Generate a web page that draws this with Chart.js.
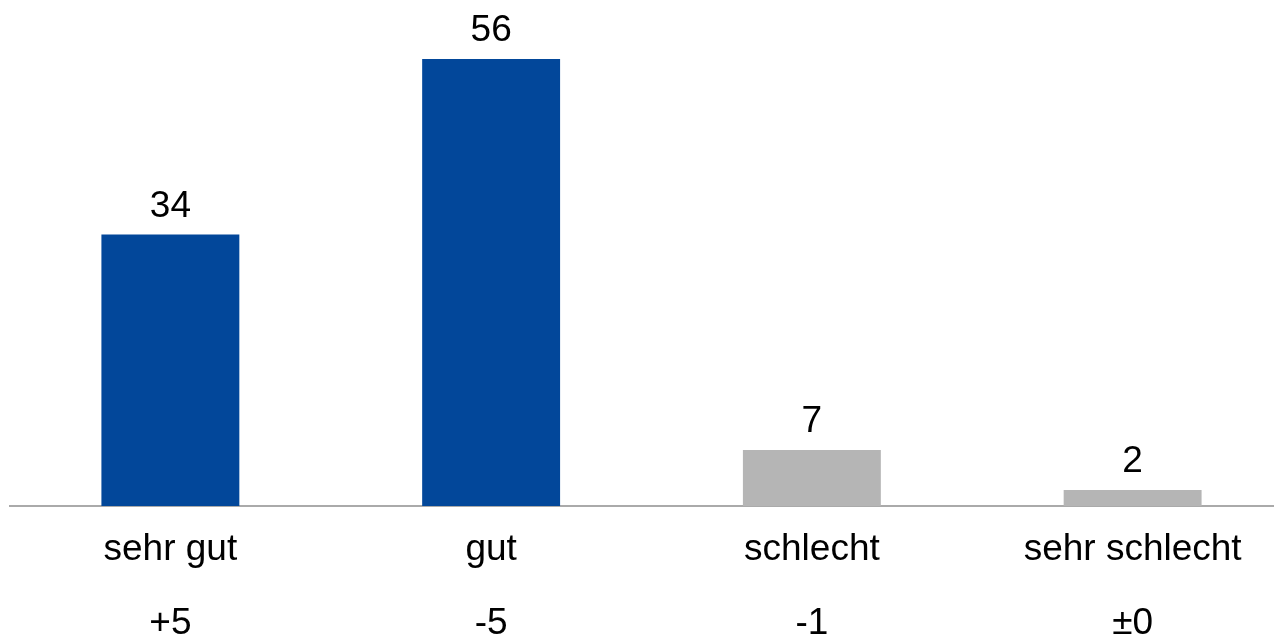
<!doctype html>
<html lang="de">
<head>
<meta charset="utf-8">
<title>Bewertung</title>
<script src="https://cdn.jsdelivr.net/npm/chart.js"></script>
<style>
  html, body { margin: 0; padding: 0; background: #fff; overflow: hidden; }
  .wrap { width: 1293px; height: 637px; position: relative; }
</style>
</head>
<body>
<div class="wrap"><canvas id="barChart"></canvas></div>
<script>
const categories = ['sehr gut', 'gut', 'schlecht', 'sehr schlecht'];
const changes = ['+5', '-5', '-1', '±0'];
const values = [34, 56, 7, 2];
const barColors = ['#02479A', '#02479A', '#B5B5B5', '#B5B5B5'];

// Werte über die Balken schreiben
const valueLabels = {
  id: 'valueLabels',
  afterDatasetsDraw(chart) {
    const ctx = chart.ctx;
    const meta = chart.getDatasetMeta(0);
    ctx.save();
    ctx.font = '37px "Liberation Sans", Arial, sans-serif';
    ctx.fillStyle = '#000';
    ctx.textAlign = 'center';
    ctx.textBaseline = 'alphabetic';
    meta.data.forEach((bar, i) => {
      ctx.fillText(String(values[i]), bar.x, bar.y - 18);
    });
    ctx.restore();
  }
};

const ctx = document.getElementById('barChart').getContext('2d');
new Chart(ctx, {
  type: 'bar',
  data: {
    labels: categories.map((c, i) => [c, changes[i]]),
    datasets: [{
      data: values,
      backgroundColor: barColors,
      barPercentage: 0.43,
      categoryPercentage: 1
    }]
  },
  options: {
    responsive: true,
    maintainAspectRatio: false,
    animation: false,
    layout: { padding: { left: 10, right: 0, top: 27, bottom: 0 } },
    plugins: {
      legend: { display: false },
      tooltip: { enabled: false }
    },
    scales: {
      x: {
        grid: { display: false, drawTicks: false },
        border: { display: true, color: '#AAAAAA', width: 2 },
        afterFit(scale) { scale.height = 131; },
        ticks: {
          color: '#000',
          padding: 7,
          maxRotation: 0,
          autoSkip: false,
          font: { family: '"Liberation Sans", Arial, sans-serif', size: 37, lineHeight: 2 }
        }
      },
      y: {
        display: false,
        min: 0,
        max: 60
      }
    }
  },
  plugins: [valueLabels]
});
</script>
</body>
</html>
